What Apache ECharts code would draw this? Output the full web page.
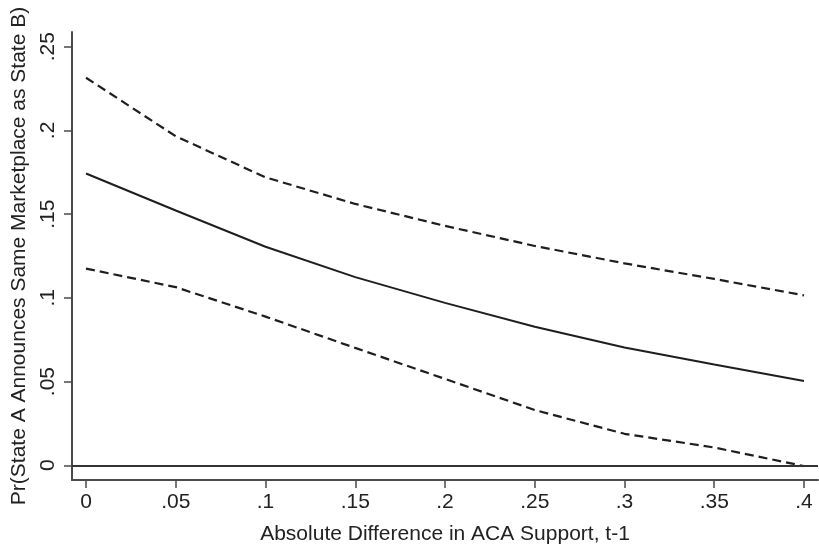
<!DOCTYPE html>
<html>
<head>
<meta charset="utf-8">
<script src="https://cdn.jsdelivr.net/npm/echarts@6/dist/echarts.min.js"></script>
<style>html,body{margin:0;padding:0;background:#fff;}#c{width:819px;height:550px;}</style>
</head>
<body>
<div id="c"></div>
<script>
const xValues = [0, 0.05, 0.1, 0.15, 0.2, 0.25, 0.3, 0.35, 0.4];
const estimate = [0.1743, 0.1522, 0.1305, 0.1124, 0.0970, 0.0827, 0.0704, 0.0602, 0.0503];
const upperCI = [0.2315, 0.1965, 0.1720, 0.1561, 0.1430, 0.1310, 0.1206, 0.1113, 0.1015];
const lowerCI = [0.1175, 0.1064, 0.0888, 0.0701, 0.0516, 0.0330, 0.0188, 0.0106, -0.0005];
const xTicks = [0, 0.05, 0.1, 0.15, 0.2, 0.25, 0.3, 0.35, 0.4];
const yTicks = [0, 0.05, 0.1, 0.15, 0.2, 0.25];
const xTitle = 'Absolute Difference in ACA Support, t-1';
const yTitle = 'Pr(State A Announces Same Marketplace as State B)';

function fmt(v) {
  if (Math.abs(v) < 1e-9) return '0';
  let s = String(+v.toFixed(4));
  return s.replace(/^0\./, '.').replace(/^-0\./, '-.');
}
const pairs = arr => xValues.map((x, i) => [x, arr[i]]);

const axisColor = '#4a4a4a';
const lineColor = '#1e1e1e';
const font = 'Liberation Sans, Arial, sans-serif';

const chart = echarts.init(document.getElementById('c'), null, {renderer: 'canvas'});
chart.setOption({
  animation: false,
  backgroundColor: '#fff',
  grid: {left: 72, right: 1, top: 32, bottom: 62, containLabel: false},
  xAxis: {
    type: 'value', min: -0.0078, max: 0.4078,
    name: xTitle, nameLocation: 'middle', nameGap: 44,
    nameTextStyle: {fontFamily: font, fontSize: 21, color: '#222'},
    axisLine: {show: true, onZero: false, lineStyle: {color: axisColor, width: 2}},
    axisTick: {show: true, length: 8, lineStyle: {color: axisColor, width: 1.5}, customValues: xTicks},
    axisLabel: {fontFamily: font, fontSize: 21, color: '#222', margin: 12, customValues: xTicks, formatter: fmt},
    splitLine: {show: false}
  },
  yAxis: {
    type: 'value', min: -0.0088, max: 0.2588,
    name: yTitle, nameLocation: 'middle', nameGap: 42, nameRotate: 90,
    nameTextStyle: {fontFamily: font, fontSize: 21, color: '#222'},
    axisLine: {show: true, onZero: false, lineStyle: {color: axisColor, width: 2}},
    axisTick: {show: true, length: 8, lineStyle: {color: axisColor, width: 1.5}, customValues: yTicks},
    axisLabel: {fontFamily: font, fontSize: 21, color: '#222', margin: 13, rotate: 90, customValues: yTicks, formatter: fmt},
    splitLine: {show: false}
  },
  series: [
    {
      type: 'line', data: pairs(upperCI), symbol: 'none', silent: true,
      lineStyle: {color: lineColor, width: 2.2, type: [9, 5]}
    },
    {
      type: 'line', data: pairs(estimate), symbol: 'none', silent: true,
      lineStyle: {color: lineColor, width: 2, type: 'solid'},
      markLine: {
        silent: true, symbol: 'none', label: {show: false},
        lineStyle: {color: '#333', width: 2, type: 'solid'},
        data: [{yAxis: 0}]
      }
    },
    {
      type: 'line', data: pairs(lowerCI), symbol: 'none', silent: true,
      lineStyle: {color: lineColor, width: 2.2, type: [9, 5]}
    }
  ]
});
</script>
</body>
</html>
